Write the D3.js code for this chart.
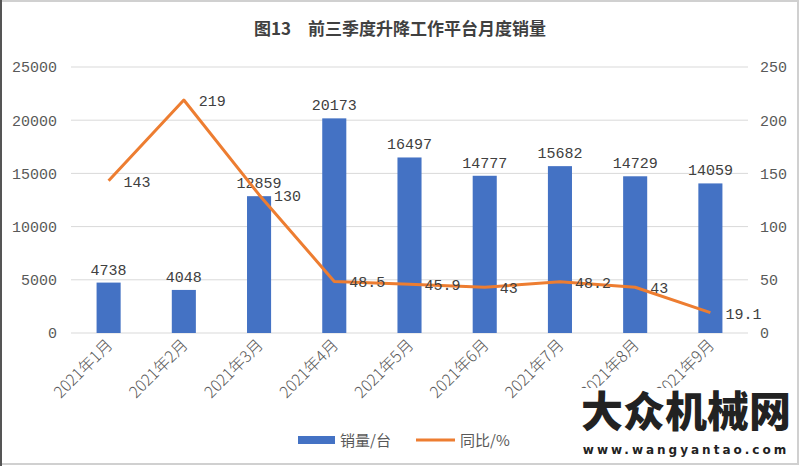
<!DOCTYPE html>
<html><head><meta charset="utf-8">
<script src="https://cdn.jsdelivr.net/npm/d3@7"></script>
<style>body{margin:0;background:#fff}svg{display:block}</style>
</head><body><svg id="c" width="800" height="466"></svg>
<script>
const categories = ["2021年1月","2021年2月","2021年3月","2021年4月","2021年5月","2021年6月","2021年7月","2021年8月","2021年9月"];
const sales = [4738,4048,12859,20173,16497,14777,15682,14729,14059];
const yoy = [143,219,130,48.5,45.9,43,48.2,43,19.1];
const yoyLabels = ["143","219","130","48.5","45.9","43","48.2","43","19.1"];
const leftTicks = [0,5000,10000,15000,20000,25000];
const rightTicks = [0,50,100,150,200,250];
const seriesNames = ["销量/台","同比/%"];
const title = "图13　前三季度升降工作平台月度销量";

const svg = d3.select("#c");
const W=800,H=466;
const m={l:71,r:52,t:67,b:133};
const font = "'Noto Sans CJK SC', sans-serif";
const numFont = "'Liberation Mono', 'DejaVu Sans Mono', monospace";
const grey="#595959";

// frame
svg.append("rect").attr("x",1).attr("y",1).attr("width",W-3).attr("height",H-3).attr("fill","#fff").attr("stroke","#d0d0d0").attr("stroke-width",2);
svg.append("line").attr("x1",1).attr("x2",1).attr("y1",0).attr("y2",H).attr("stroke","#555").attr("stroke-width",2);

const x = d3.scaleBand().domain(categories).range([m.l,W-m.r]).paddingInner(0.68).paddingOuter(0.34);
const yL = d3.scaleLinear().domain([0,25000]).range([H-m.b,m.t]);
const yR = d3.scaleLinear().domain([0,250]).range([H-m.b,m.t]);

// grid
svg.append("g").selectAll("line").data(leftTicks).join("line")
 .attr("x1",m.l).attr("x2",W-m.r).attr("y1",d=>yL(d)).attr("y2",d=>yL(d))
 .attr("stroke","#d9d9d9").attr("stroke-width",1);

// left axis
const gL = svg.append("g").attr("transform",`translate(${m.l},0)`)
 .call(d3.axisLeft(yL).tickValues(leftTicks).tickSize(0).tickPadding(14).tickFormat(d3.format("d")));
gL.select(".domain").remove();
gL.selectAll("text").attr("font-family",numFont).attr("font-size",15).attr("fill",grey);

const gR = svg.append("g").attr("transform",`translate(${W-m.r},0)`)
 .call(d3.axisRight(yR).tickValues(rightTicks).tickSize(0).tickPadding(12).tickFormat(d3.format("d")));
gR.select(".domain").remove();
gR.selectAll("text").attr("font-family",numFont).attr("font-size",15).attr("fill",grey);

// bars
svg.append("g").selectAll("rect").data(sales).join("rect")
 .attr("x",(d,i)=>x(categories[i])).attr("width",x.bandwidth())
 .attr("y",d=>yL(d)).attr("height",d=>yL(0)-yL(d)).attr("fill","#4472C4");

// bar labels
svg.append("g").selectAll("text").data(sales).join("text")
 .attr("x",(d,i)=>x(categories[i])+x.bandwidth()/2).attr("y",d=>yL(d)-8)
 .attr("text-anchor","middle").attr("font-family",numFont).attr("font-size",15).attr("fill","#404040")
 .text(d=>d);

// line
const cx = i=>x(categories[i])+x.bandwidth()/2;
svg.append("path").datum(yoy)
 .attr("d",d3.line().x((d,i)=>cx(i)).y(d=>yR(d)))
 .attr("fill","none").attr("stroke","#ED7D31").attr("stroke-width",3).attr("stroke-linejoin","round");

svg.append("g").selectAll("text").data(yoy).join("text")
 .attr("x",(d,i)=>cx(i)+15).attr("y",d=>yR(d)+6)
 .attr("font-family",numFont).attr("font-size",15).attr("fill","#404040")
 .text((d,i)=>yoyLabels[i]);

// x axis labels
const gX = svg.append("g").attr("transform",`translate(0,${H-m.b})`)
 .call(d3.axisBottom(x).tickSize(0).tickPadding(0));
gX.select(".domain").remove();
gX.selectAll("text").attr("font-family",font).attr("font-size",16).attr("font-weight",300).attr("fill",grey)
 .attr("text-anchor","end").attr("dy",0)
 .attr("transform","translate(5,13) rotate(-45)");

// title
svg.append("text").attr("x",400).attr("y",35).attr("text-anchor","middle")
 .attr("font-family",font).attr("font-weight","bold").attr("font-size",17).attr("fill","#404040").text(title);

// legend
const lg = svg.append("g");
lg.append("rect").attr("x",298).attr("y",436).attr("width",37).attr("height",8).attr("fill","#4472C4");
lg.append("text").attr("x",340).attr("y",446).attr("font-family",font).attr("font-size",15).attr("fill",grey).text(seriesNames[0]);
lg.append("line").attr("x1",416).attr("x2",455).attr("y1",440).attr("y2",440).attr("stroke","#ED7D31").attr("stroke-width",3);
lg.append("text").attr("x",460).attr("y",446).attr("font-family",font).attr("font-size",15).attr("fill",grey).text(seriesNames[1]);

// watermark
svg.append("rect").attr("x",578).attr("y",388).attr("width",218).attr("height",72).attr("fill","#fff");
svg.append("text").attr("x",686).attr("y",427).attr("text-anchor","middle").attr("font-family",font).attr("font-weight","900").attr("font-size",42).attr("fill","#222").text("大众机械网");
svg.append("text").attr("x",686).attr("y",454).attr("text-anchor","middle").attr("font-family","'DejaVu Sans', sans-serif").attr("font-weight","bold").attr("font-size",12).attr("letter-spacing",3).attr("fill","#222").text("www.wangyantao.com");
</script></body></html>
